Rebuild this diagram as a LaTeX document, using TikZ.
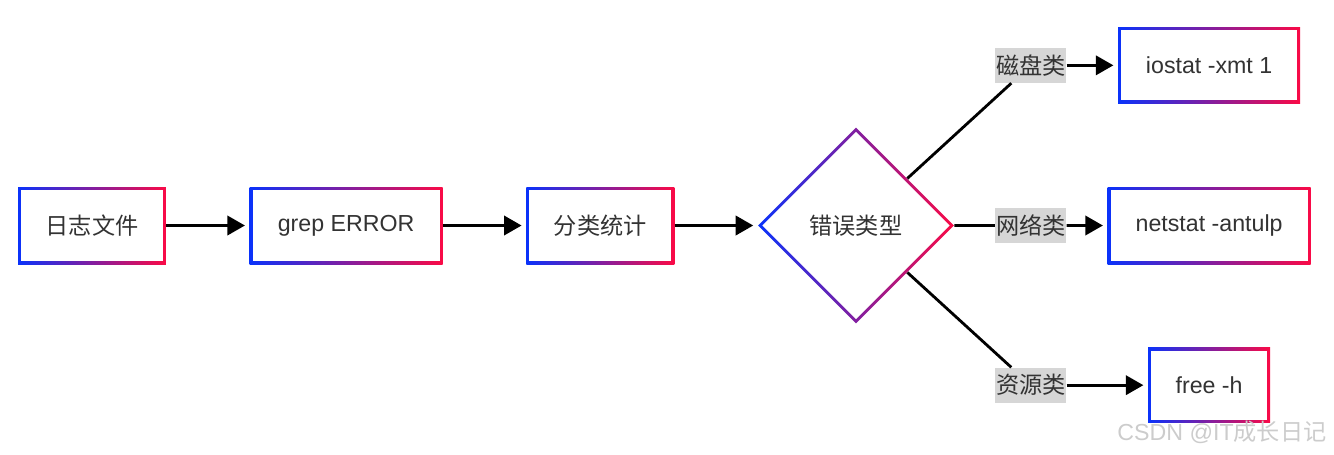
\documentclass[tikz,border=0pt]{standalone}
\usepackage{fontspec}
\setmainfont{Liberation Sans}
\newfontfamily\cjk{Noto Sans CJK SC}
\usepackage{tikz}
\usetikzlibrary{arrows.meta,positioning,shapes.geometric,calc}
\definecolor{gblue}{RGB}{10,50,250}
\definecolor{gred}{RGB}{250,10,70}
\definecolor{txt}{RGB}{51,51,51}
\newcommand{\txtfont}{\fontsize{13.2}{16}\selectfont}

\begin{document}
\begin{tikzpicture}[
    x=0.02cm, y=-0.02cm,
    node distance=1.66cm,
    box/.style={rectangle, minimum height=1.54cm, inner sep=0pt, align=center, text=txt, font=\txtfont,
        path picture={
            \shade[left color=gblue, right color=gred] (path picture bounding box.south west) rectangle (path picture bounding box.north east);
            \fill[white] ([shift={(1.7pt,1.7pt)}]path picture bounding box.south west) rectangle ([shift={(-1.7pt,-1.7pt)}]path picture bounding box.north east);
        }},
    decision/.style={diamond, aspect=1, minimum size=3.92cm, inner sep=0pt, text=txt, font=\cjk\txtfont,
        path picture={
            \shade[left color=gblue, right color=gred] (path picture bounding box.south west) rectangle (path picture bounding box.north east);
            \fill[white] ([xshift=2.4pt]path picture bounding box.west) -- ([yshift=-2.4pt]path picture bounding box.north)
                -- ([xshift=-2.4pt]path picture bounding box.east) -- ([yshift=2.4pt]path picture bounding box.south) -- cycle;
        }},
    lbl/.style={fill=gray!32, text=txt, font=\cjk\txtfont, inner xsep=0.4pt, inner ysep=0pt, minimum height=0.7cm},
    line/.style={line width=1.6pt},
    arr/.style={line, -{Triangle[length=10pt,width=11pt]}, shorten >=2.5pt},
]
\useasboundingbox (0,0) rectangle (1334,454);

\node[box, minimum width=2.96cm, font=\cjk\txtfont] (log) at (92,225.5) {日志文件};
\node[box, minimum width=3.86cm, right=of log] (grep) {grep ERROR};
\node[box, minimum width=2.96cm, font=\cjk\txtfont, right=of grep] (stat) {分类统计};
\node[decision, right=1.66cm of stat] (kind) {错误类型};
\node[box, minimum width=4.06cm, right=3.06cm of kind] (net) {netstat -antulp};
\node[box, minimum width=3.64cm, minimum height=1.52cm, above=of net] (disk) {iostat -xmt 1};
\node[box, minimum width=2.44cm, minimum height=1.5cm, below=of net] (mem) {free -h};

% branch labels
\coordinate (mid) at ($(kind.east)!0.5!(net.west)$);
\node[lbl] (ldisk) at (mid |- disk) {磁盘类};
\node[lbl] (lnet) at (mid) {网络类};
\node[lbl] (lmem) at (mid |- mem) {资源类};

\draw[arr] (log) -- (grep);
\draw[arr] (grep) -- (stat);
\draw[arr] (stat) -- (kind);
\draw[line] (kind) -- (ldisk);
\draw[arr] (ldisk) -- (disk);
\draw[line] (kind) -- (lnet);
\draw[arr] (lnet) -- (net);
\draw[line] (kind) -- (lmem);
\draw[arr] (lmem) -- (mem);

\node[text=gray!40, font=\txtfont, inner sep=0pt] (mark) at (1222,432) {CSDN @IT{\cjk 成长日记}};
\end{tikzpicture}
\end{document}
